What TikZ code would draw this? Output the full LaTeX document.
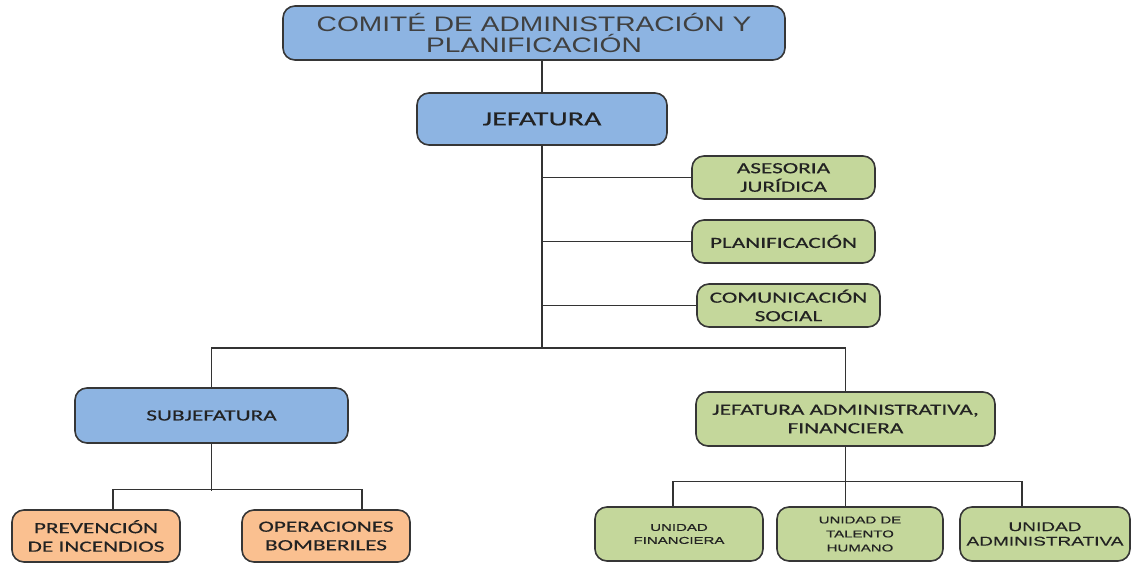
\documentclass[tikz,border=0pt]{standalone}
\usepackage{fontspec}
\setmainfont{Carlito}
\newfontfamily\calw[FakeStretch=1.5,FakeBold=0.5]{Carlito}
\newfontfamily\arialw[FakeStretch=1.34]{Liberation Sans}
\newfontfamily\unidw[FakeStretch=1.5,FakeBold=0.4]{Liberation Sans}
\definecolor{bluef}{HTML}{8DB4E2}
\definecolor{greenf}{HTML}{C4D79B}
\definecolor{orangef}{HTML}{FAC090}
\definecolor{edgec}{HTML}{363636}
\definecolor{txtc}{HTML}{222222}
\tikzset{
  box/.style={draw=edgec, line width=1.6pt, rounded corners=12pt, align=center, inner sep=0pt, text=txtc},
  bluebox/.style={box, fill=bluef},
  greenbox/.style={box, fill=greenf},
  orangebox/.style={box, fill=orangef},
  calt/.style={font=\calw\fontsize{15.5}{18.5}\selectfont},
  conn/.style={draw=black!80, line width=1.3pt}
}
\begin{document}
\begin{tikzpicture}[x=1pt,y=-1pt]
\useasboundingbox (0,0) rectangle (1132,564);
% top levels
\node[bluebox, minimum width=502pt, minimum height=54pt, text=black!75, font=\arialw\fontsize{21}{21.5}\selectfont] (comite) at (534,33) {COMITÉ DE ADMINISTRACIÓN Y\\PLANIFICACIÓN};
\node[bluebox, minimum width=250pt, minimum height=52pt, font=\calw\fontsize{20}{22}\selectfont] (jef) at (542,119) {JEFATURA};
% staff boxes
\node[greenbox, calt, minimum width=183pt, minimum height=43pt] (ase) at (783.5,177.5) {ASESORIA\\JURÍDICA};
\node[greenbox, calt, minimum width=183pt, minimum height=43pt] (pla) at (783.5,241.5) {PLANIFICACIÓN};
\node[greenbox, calt, minimum width=183pt, minimum height=43pt] (com) at (788.5,305.5) {COMUNICACIÓN\\SOCIAL};
% second level
\node[bluebox, calt, minimum width=273pt, minimum height=55pt] (sub) at (211.5,415.5) {SUBJEFATURA};
\node[greenbox, calt, minimum width=299pt, minimum height=54pt] (adm) at (845.5,419) {JEFATURA ADMINISTRATIVA,\\FINANCIERA};
% third level
\node[orangebox, calt, minimum width=168pt, minimum height=52pt] (pre) at (96,536) {PREVENCIÓN\\DE INCENDIOS};
\node[orangebox, calt, minimum width=168pt, minimum height=52pt] (ope) at (326,536) {OPERACIONES\\BOMBERILES};
\node[greenbox, minimum width=168pt, minimum height=54pt, font=\unidw\fontsize{10}{13}\selectfont] (ufi) at (679,534) {UNIDAD\\FINANCIERA};
\node[greenbox, minimum width=166pt, minimum height=54pt, font=\unidw\fontsize{10}{14}\selectfont] (uta) at (860,534) {UNIDAD DE\\TALENTO\\HUMANO};
\node[greenbox, minimum width=170pt, minimum height=54pt, font=\unidw\fontsize{12.7}{14.5}\selectfont] (uad) at (1045,534) {UNIDAD\\ADMINISTRATIVA};
% connectors
\coordinate (bus) at (542,348);
\draw[conn] (jef.north) -- (jef.north |- comite.south);
\draw[conn] (jef.south) -- (bus);
\draw[conn] (jef.south |- ase.west) -- (ase.west);
\draw[conn] (jef.south |- pla.west) -- (pla.west);
\draw[conn] (jef.south |- com.west) -- (com.west);
\draw[conn] (sub.north) |- (bus) -| (adm.north);
\draw[conn] (sub.south) -- ++(0,47);
\draw[conn] ([xshift=17pt]pre.north) -- ++(0,-20) -| ([xshift=36pt]ope.north);
\draw[conn] (adm.south) -- (adm.south |- uta.north);
\draw[conn] ([xshift=-6pt]ufi.north) -- ++(0,-25) -| ([xshift=-23pt]uad.north);
\end{tikzpicture}
\end{document}
